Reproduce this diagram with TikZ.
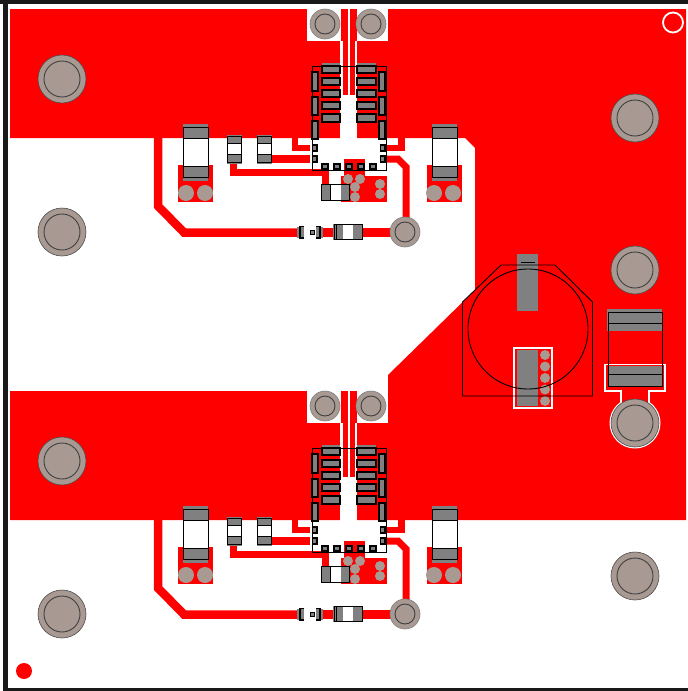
\documentclass[tikz,border=0pt]{standalone}
\usepackage{tikz}
\definecolor{padgray}{HTML}{808080}
\definecolor{viatan}{HTML}{A89A92}
\tikzset{
	copper/.style={fill=red, draw=none},
	clearance/.style={fill=white, draw=none},
	trace/.style={draw=red, line width=7pt, line join=miter},
	pad/.style={fill=padgray, draw=none},
	padline/.style={draw=black, line width=1.1pt},
	outline/.style={draw=black, line width=0.9pt},
	ring/.style={draw=black!75, line width=0.9pt},
	via/.style={fill=viatan, draw=none},
}
\def\bighole(#1,#2){\draw[fill=viatan, draw=black!70, line width=0.6pt] (#1,#2) circle (24); \draw[ring] (#1,#2) circle (18);}
\def\smallhole(#1,#2){\draw[fill=viatan, draw=black!50, line width=0.6pt] (#1,#2) circle (15); \draw[ring] (#1,#2) circle (10);}
\def\lead(#1,#2)(#3,#4){\fill[pad] (#1-1,#2-1) rectangle (#3+1,#4+1); \draw[padline] (#1,#2) rectangle (#3,#4);}

\begin{document}
\begin{tikzpicture}[x=1pt,y=-1pt]
		%%%%% BOARD %%%%%
		\useasboundingbox (0,0) rectangle (688,691);
		\fill[white] (0,0) rectangle (688,691);
		
		\fill[copper] (10,9) -- (686,9) -- (686,520) -- (10,520) -- (10,391) -- (388,391) -- (388,375) -- (475,290) -- (475,148) -- (465,138) -- (10,138) -- cycle;
		
		\fill[black!90] (0,0) rectangle (688,4);
		\fill[black!90] (3,0) rectangle (7.5,691);
		\fill[black!90] (3,687.5) rectangle (688,691);
		
		\draw[white, line width=1.8pt] (673,22.5) circle (10);
		\fill[red] (24,671) circle (8);
		
		%%%%% REGULATOR BLOCKS %%%%%
		\foreach \dy in {0,382} {
			\begin{scope}[yshift=-\dy pt]
				% clearance round the two top holes and the middle channel
				\fill[clearance] (307,9) rectangle (341,41);
				\fill[clearance] (357,9) rectangle (388,41);
				\fill[clearance] (340,41) rectangle (343,100);
				\fill[clearance] (354.5,41) rectangle (357,100);
				\fill[clearance] (348,9) rectangle (350,100);
				\fill[clearance] (340,95) rectangle (357,144);
				\fill[clearance] (298,138.5) rectangle (398,144);
				\fill[clearance] (298,144) rectangle (398,175);
				
				% traces under the chip
				\fill[copper] (292,138) rectangle (298,151);
				\fill[copper] (292,144.5) rectangle (310,151);
				\fill[copper] (398,138) rectangle (405,151);
				\fill[copper] (385,144.5) rectangle (405,151);
				\fill[copper] (272,155) rectangle (310,163);
				\draw[trace] (233.5,160) -- (233.5,172.5) -- (325,172.5) -- (325,186);
				\draw[trace] (385,159) -- (398,159) -- (406,167) -- (406,222);
				\draw[trace, line width=8.5pt] (158,138) -- (158,206) -- (184,232.5) -- (300,232.5);
				\draw[trace, line width=9pt] (320,232.5) -- (336,232.5);
				\draw[trace, line width=9pt] (360,232.5) -- (395,232.5);
				
				% pads and vias
				\fill[copper] (178,165) rectangle (213,202);
				\fill[copper] (427,165) rectangle (462,202);
				\fill[copper] (341,176) rectangle (387,202);
				\fill[copper] (344,159) rectangle (365,176);
				\foreach \vx in {186,205,434,453} {
					\fill[via] (\vx,193) circle (8);
				}
				\fill[via] (348,179) circle (5);
				\fill[via] (360,179) circle (5);
				\fill[via] (355,187) circle (5);
				\fill[via] (355,197) circle (5);
				\fill[via] (380,184) circle (5);
				\fill[via] (380,194) circle (5);
				
				% tall capacitors
				\foreach \cx in {183,432} {
					\fill[white] (\cx,138) rectangle (\cx+25,166);
					\fill[pad] (\cx,124) rectangle (\cx+25,138);
					\fill[pad] (\cx,166) rectangle (\cx+25,181);
					\draw[outline] (\cx,127) rectangle (\cx+25,177);
					\draw[outline] (\cx,138) -- (\cx+25,138);
					\draw[outline] (\cx,166) -- (\cx+25,166);
				}
				
				% short capacitors
				\foreach \cx in {227,257} {
					\fill[white] (\cx,143) rectangle (\cx+15,154);
					\fill[pad] (\cx,134.5) rectangle (\cx+15,143);
					\fill[pad] (\cx,154) rectangle (\cx+15,163.5);
					\draw[outline] (\cx+0.5,136) rectangle (\cx+14.5,162);
					\draw[outline] (\cx+0.5,143) -- (\cx+14.5,143);
					\draw[outline] (\cx+0.5,154) -- (\cx+14.5,154);
				}
				
				% chip leads
				\fill[pad] (322,63) rectangle (340,66);
				\fill[pad] (357,63) rectangle (376,66);
				\foreach \ya/\yb in {66/73,78/85,90/97,102/109,114/122} {
					\draw[pad, padline] (322,\ya) rectangle (340,\yb);
					\draw[pad, padline] (357,\ya) rectangle (376,\yb);
				}
				\foreach \ya/\yb in {72/91,97/115,121/139} {
					\lead(312,\ya)(318,\yb)
					\lead(379,\ya)(385,\yb)
				}
				\foreach \ya/\yb in {145/151,156/162} {
					\lead(312.5,\ya)(317,\yb)
					\lead(380.5,\ya)(385,\yb)
				}
				\foreach \xa in {322,334,346,358,370} {
					\lead(\xa,164)(\xa+6,169)
				}
				\draw[outline] (312,66) rectangle (386,170);
				
				% small parts
				\fill[white] (330,184) rectangle (341,200);
				\fill[pad] (321,184) rectangle (330,200);
				\fill[pad] (341,184) rectangle (349,200);
				\draw[outline] (321,184) rectangle (349,200);
				\draw[outline] (330,184) -- (330,200);
				\fill[white] (302,226) rectangle (318,239);
				\fill[pad] (297,227) rectangle (304,238);
				\fill[pad] (316,227) rectangle (323,238);
				\draw[outline, line width=1.1pt] (304,226.5) -- (300,226.5) -- (300,238) -- (304,238);
				\draw[outline, line width=1.1pt] (316,226.5) -- (320,226.5) -- (320,238) -- (316,238);
				\draw[outline, fill=padgray] (310.5,230.5) rectangle (314,234);
				\fill[white] (343,225) rectangle (353,240);
				\fill[pad] (333,224) rectangle (343,240);
				\fill[pad] (353,224) rectangle (363,240);
				\draw[outline] (334,224.5) rectangle (362.5,239.5);
				\draw[outline] (336.5,224.5) -- (336.5,239.5);
				
				% holes
				\smallhole(325,24)
				\smallhole(371,24)
				\smallhole(405,232)
				\bighole(62,79)
				\bighole(62,232)
			\end{scope}
		}
		
		%%%%% RIGHT SIDE %%%%%
		\bighole(635,118)
		\bighole(635,270)
		\bighole(635,576)
		
		% battery holder
		\fill[pad] (517,254) rectangle (538,311);
		\draw[white, fill=red, line width=1.8pt] (514,348) rectangle (552,408);
		\fill[pad] (517,349.5) rectangle (538,406);
		\foreach \vy in {355,366.5,378,389.5,401} {
			\fill[via] (545,\vy) circle (5);
		}
		\draw[outline] (521,262.5) -- (535,262.5);
		\draw[outline] (462.5,396) -- (462.5,302) -- (501,265) -- (555,265) -- (592.5,302) -- (592.5,396) -- cycle;
		\draw[outline] (528,329) circle (60);
		
		% power part with its hole
		\fill[white] (635,423) circle (25.5);
		\draw[white, fill=red, line width=1.8pt] (605,364.5) -- (665,364.5) -- (665,391) -- (649,391) -- (649,405) -- (621,405) -- (621,391) -- (605,391) -- cycle;
		\fill[pad] (607,309) rectangle (662,331);
		\fill[pad] (608,366) rectangle (662,386);
		\draw[outline] (608,312) rectangle (662,386);
		\draw[outline] (608,323) -- (662,323);
		\draw[outline] (608,374) -- (662,374);
		\bighole(635,423)
		
		%%%%% END %%%%%
	\end{tikzpicture}
\end{document}
